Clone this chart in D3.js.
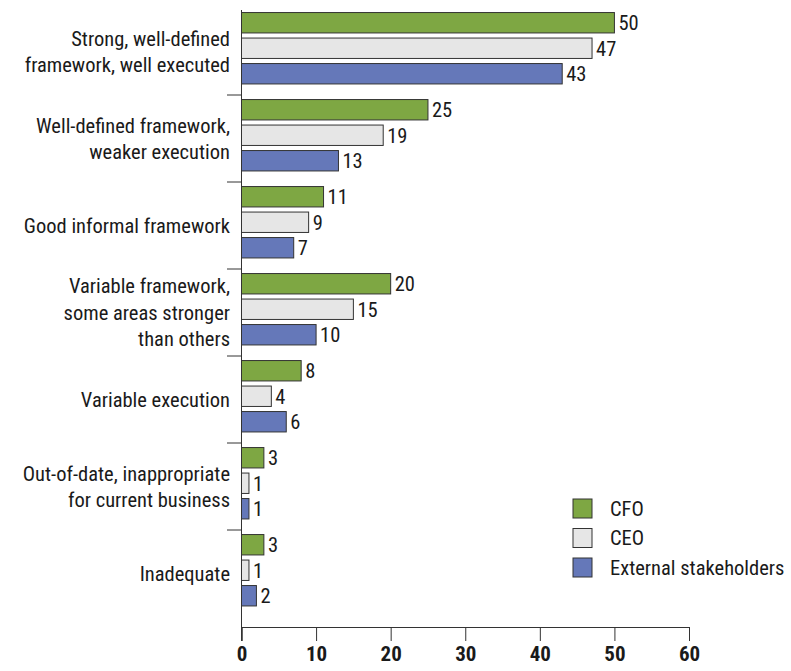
<!DOCTYPE html>
<html lang="en">
<head>
	<meta charset="utf-8">
	<title>Framework chart</title>
	<script src="https://cdnjs.cloudflare.com/ajax/libs/d3/7.8.5/d3.min.js"></script>
	<style>
	body {
		margin: 0;
		background-color: #ffffff;
	}
	svg text {
		font-family: "Liberation Sans Narrow", "Roboto Condensed", "DejaVu Sans Condensed", sans-serif;
		fill: #1a1a1a;
	}
	</style>
</head>
<body>
<svg id="chart" width="791" height="671"></svg>
<script>
// categories, one label line per entry
var categories = [
	["Strong, well-defined", "framework, well executed"],
	["Well-defined framework,", "weaker execution"],
	["Good informal framework"],
	["Variable framework,", "some areas stronger", "than others"],
	["Variable execution"],
	["Out-of-date, inappropriate", "for current business"],
	["Inadequate"]
];
var series = ["CFO", "CEO", "External stakeholders"];
var cfo = [50, 25, 11, 20, 8, 3, 3];
var ceo = [47, 19, 9, 15, 4, 1, 1];
var external = [43, 13, 7, 10, 6, 1, 2];
var xTicks = [0, 10, 20, 30, 40, 50, 60];

var colors = { "CFO": "#7ea743", "CEO": "#e6e6e6", "External stakeholders": "#6578b9" };
var values = { "CFO": cfo, "CEO": ceo, "External stakeholders": external };

var svg = d3.select('#chart');

var x = d3.scaleLinear().domain([0, 60]).range([241.5, 689]);

var y = d3.scaleBand()
	.domain(d3.range(categories.length))
	.range([8, 617])
	.paddingInner(0)
	.paddingOuter(0);

var yInner = d3.scaleBand()
	.domain(series)
	.range([2, 78.5])
	.paddingInner(0.2)
	.paddingOuter(0.1);

// bars
categories.forEach(function (cat, i) {
	var g = svg.append('g').attr('transform', 'translate(0,' + y(i) + ')');
	series.forEach(function (s) {
		var v = values[s][i];
		g.append('rect')
			.attr('x', x(0))
			.attr('y', yInner(s))
			.attr('width', x(v) - x(0))
			.attr('height', yInner.bandwidth())
			.attr('fill', colors[s])
			.attr('stroke', '#333')
			.attr('stroke-width', 1);
		g.append('text')
			.attr('x', x(v) + 4)
			.attr('y', yInner(s) + yInner.bandwidth() / 2)
			.attr('dy', '0.36em')
			.style('font-size', '20.5px')
			.text(v);
	});

	// category label
	var lh = 26.5;
	var mid = y(i) + y.bandwidth() / 2;
	var t = svg.append('text')
		.attr('text-anchor', 'end')
		.style('font-size', '20.5px');
	cat.forEach(function (line, k) {
		t.append('tspan')
			.attr('x', 230)
			.attr('y', mid + (k - (cat.length - 1) / 2) * lh)
			.attr('dy', '0.36em')
			.text(line);
	});
});

// band separators on the left
svg.selectAll('line.sep')
	.data(d3.range(1, categories.length))
	.enter().append('line')
	.attr('class', 'sep')
	.attr('x1', 227).attr('x2', x(0))
	.attr('y1', function (d) { return y(d); })
	.attr('y2', function (d) { return y(d); })
	.attr('stroke', '#333');

// vertical axis line
svg.append('line')
	.attr('x1', x(0)).attr('x2', x(0))
	.attr('y1', 10).attr('y2', 641)
	.attr('stroke', '#333');

// x axis
var xAxis = d3.axisBottom(x).tickValues(xTicks).tickSize(14).tickPadding(5);
var ax = svg.append('g').attr('transform', 'translate(0,627)').call(xAxis);
ax.select('.domain').attr('stroke', '#333');
ax.selectAll('.tick line').attr('stroke', '#333');
ax.selectAll('.tick text')
	.style('font-size', '21px')
	.style('font-weight', 'bold')
	.style('font-family', '"Liberation Sans Narrow", "Roboto Condensed", "DejaVu Sans Condensed", sans-serif')
	.attr('fill', '#1a1a1a');

// legend
var legend = svg.append('g').attr('transform', 'translate(573,499)');
series.forEach(function (s, k) {
	legend.append('rect')
		.attr('x', 0).attr('y', k * 29.5)
		.attr('width', 19).attr('height', 19)
		.attr('fill', colors[s])
		.attr('stroke', '#333');
	legend.append('text')
		.attr('x', 37).attr('y', k * 29.5 + 9.5)
		.attr('dy', '0.36em')
		.style('font-size', '20.5px')
		.text(s);
});
</script>
</body>
</html>
